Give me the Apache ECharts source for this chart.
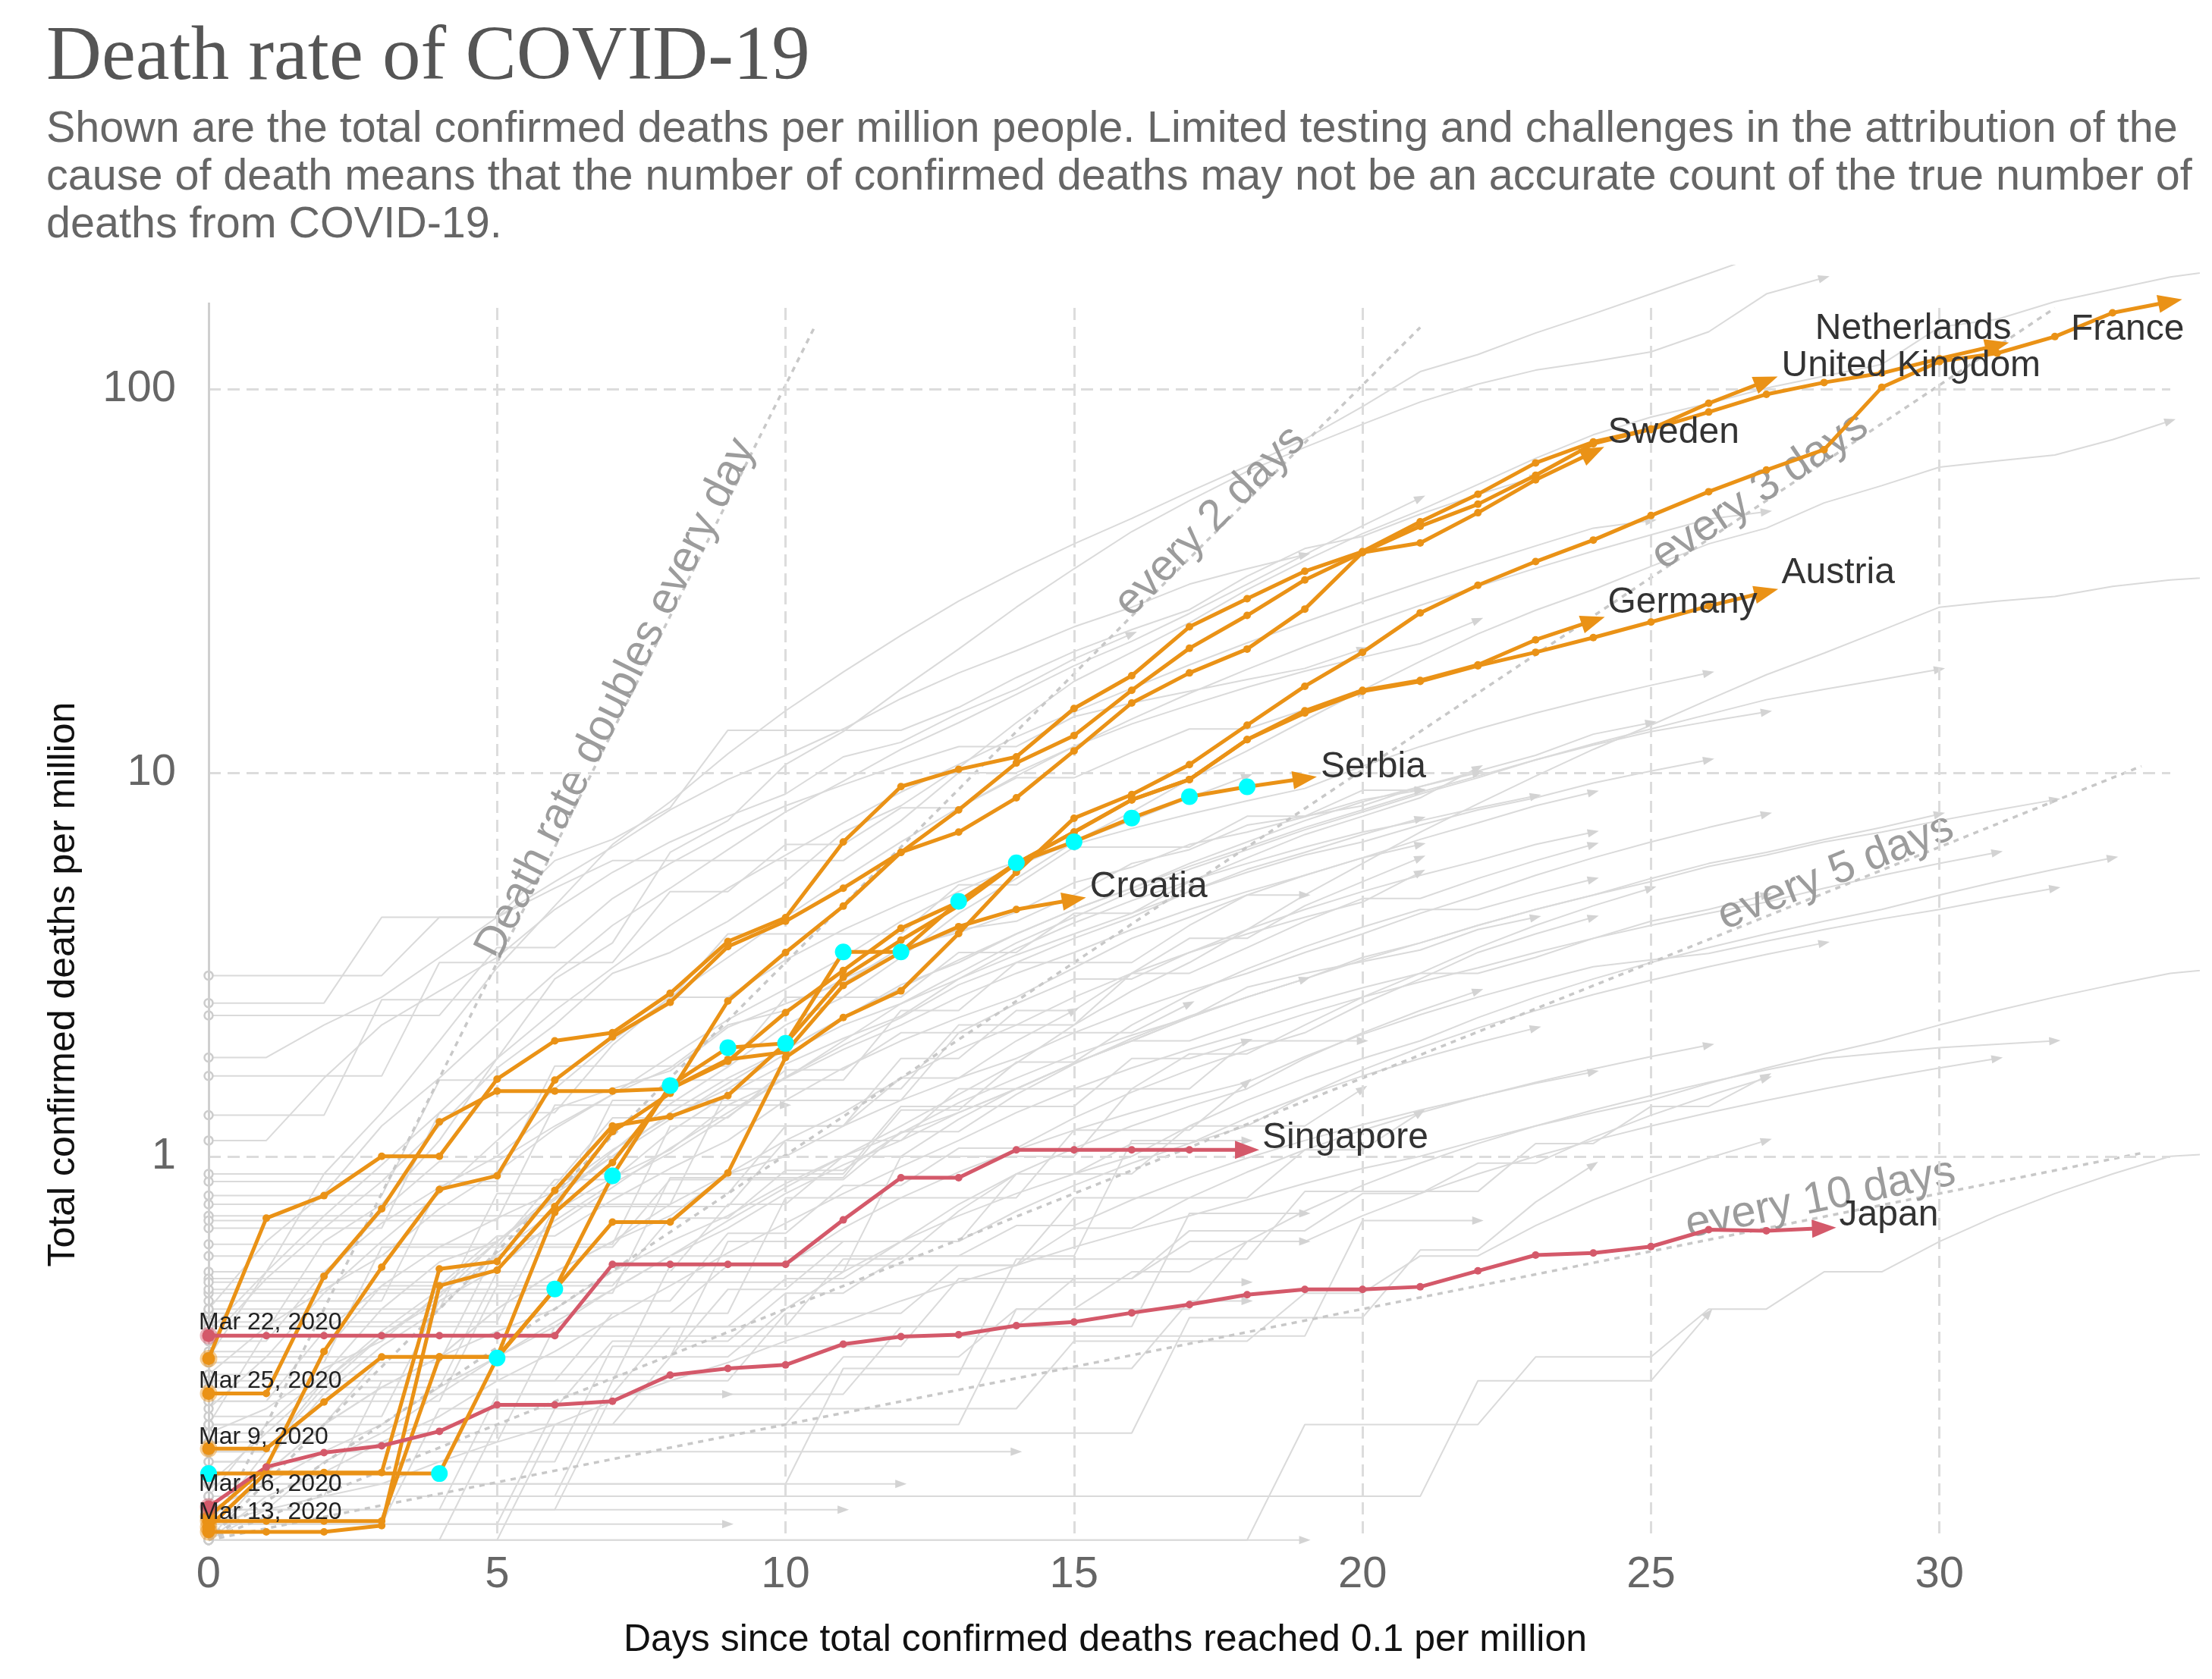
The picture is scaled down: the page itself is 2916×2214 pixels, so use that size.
<!DOCTYPE html>
<html><head><meta charset="utf-8">
<script src="https://cdn.jsdelivr.net/npm/echarts@6/dist/echarts.min.js"></script>
<style>html,body{margin:0;padding:0;background:#fff}#c{width:2916px;height:2214px}</style>
</head><body><div id="c"></div>
<script>
// ---------------- DATA (index = days since 0.1 deaths per million) ----------------
const xTickValues = [0, 5, 10, 15, 20, 25, 30];
const yTickValues = [1, 10, 100];

const france = [0.173,0.173,0.229,0.30,0.30,0.30,0.45,0.674,0.674,0.905,1.81,2.30,2.70,3.81,5.5,7.61,8.77,10.5,13.3,16.8,20.6,26.1,30.8,35.5,40.4,46.8,54.0,61.5,69.5,101,118,124,137,158,169];
const netherlands = [0.115,0.155,0.31,0.514,0.82,0.89,1.58,2.05,2.52,3.52,4.1,5.0,6.2,8.0,10.6,12.5,16.4,21.1,25.7,31.8,37.5,43.9,50.1,59.6,72,78.5,87.1,96.9,104,110,120,130];
const unitedKingdom = [0.297,0.69,0.79,1.0,1.0,1.59,2.0,2.1,2.66,3.63,4.19,6.6,9.2,10.2,11.0,14.7,17.9,24.0,28.4,33.5,37.7,45.1,53.2,64.2,72.8,78.7,91.8,105];
const sweden = [0.105,0.105,0.105,0.109,0.46,0.505,0.74,1.16,1.46,2.54,3.4,4.49,6.2,7.0,8.6,11.4,15.2,18.2,21.0,26.7,37.5,39.7,47.6,58.0,68.5];
const austria = [0.112,0.112,0.112,0.112,0.30,0.30,0.714,0.964,1.5,1.77,2.37,3.05,3.93,4.6,5.8,7.0,8.5,9.6,12.2,14.3,16.3,17.3,19.0,20.6,22.5,24.7,27.2,29.6];
const germany = [0.108,0.15,0.15,0.15,0.509,0.532,0.815,1.2,1.27,1.44,1.97,2.93,3.66,4.5,5.8,7.0,8.5,9.6,12.2,14.5,16.4,17.4,19.1,22.2,24.9];
const serbia = [0.149,null,null,null,0.149,0.298,0.451,0.89,1.53,1.92,1.97,3.41,3.41,4.62,5.82,6.61,7.62,8.66,9.19,9.66];
const croatia = [0.241,0.241,0.487,0.73,1.23,1.48,1.48,1.48,1.5,1.79,1.87,2.79,3.41,3.97,4.40,4.67];
const singapore = [0.341,0.341,0.341,0.341,0.341,0.341,0.341,0.523,0.523,0.523,0.523,0.683,0.88,0.88,1.04,1.04,1.04,1.04,1.04];
const japan = [0.122,0.155,0.169,0.176,0.192,0.225,0.225,0.23,0.269,0.28,0.286,0.324,0.339,0.343,0.362,0.37,0.391,0.411,0.436,0.45,0.45,0.457,0.503,0.553,0.56,0.582,0.644,0.64,0.65];

const dateLabels = ['Mar 22, 2020','Mar 25, 2020','Mar 9, 2020','Mar 16, 2020','Mar 13, 2020'];
const dateLabelValues = [0.345,0.243,0.174,0.131,0.111];

const refLabels = ['Death rate doubles every day','every 2 days','every 3 days','every 5 days','every 10 days'];
const refDoublingDays = [1, 2, 3, 5, 10];
const refEndDays = [10.5, 21, 32, 33.5, 33.5];
const refLabelDays = [7.24, 17.5, 27.0, 28.3, 28.0];

const grayLines = [
 [0.33,0.48,0.65,0.86,1.2,1.7,2.2,3.0,3.4,4.1,5.2,7.0,8.2,10.3,13.5,17.3,20.6,24.6,30.0,35.7,42.0,48.3,56.4,66.0,76.0,84.5,91.7,100.6,108,116,145,152,169,182,196,205],
 [0.2,0.35,0.6,0.75,1.1,1.8,2.9,3.6,6.2,7.5,10.5,12.8,16.5,21.0,27.0,34.0,42.5,51.2,61.0,70.5,81.0,92.5,103,112,118,125,141,177,195],
 [0.3,0.5,0.9,1.3,2.0,3.1,4.5,6.5,8.4,11.2,14.5,18.3,22.8,28.0,33.5,39.5,46,54,63,74,90,111,123,140,157,177,200,226],
 [0.11,0.17,0.26,0.34,0.43,0.6,0.77,1.03,1.37,1.71,2.2,2.6,3.3,4.3,5.3,6.6,7.9,9.6,11.4,13.7,16.4,19.5,23,26.5,30,34.5,39.5,43.4,50.5,56,62.6,65,67.3,73.8,82.6],
 [0.1,0.12,0.16,0.19,0.24,0.3,0.37,0.45,0.55,0.68,0.83,1.0,1.2,1.45,1.75,2.2,2.7,3.2,3.9,4.8,5.8,7.0,8.3,9.8,11.5,13.3,15.5,18,20.5,23.5,27,28,28.8,30.6,31.8,32.5],
 [2.96,2.96,2.96,2.96,4.2,4.2,5.9,6.7,8.1,12.9,12.9,12.9,12.9,14.8,17.7,20.7,23.6,26.6,32.5,38.4,41.3,47.2,53.1,59],
 [2.51,2.51,2.51,4.2,4.2,4.2,5.0,5.9,5.9,5.9,5.9,5.9,7.5,10,10,11.7,13.4,15,16.7,18.4,20,21.7,25],
 [2.33,2.33,2.33,2.33,2.33,3.5,3.5,4.7,5.8,7.0,8.2,9.3,10.5,11.7,11.7,14.0,15.2,16.3,17.5,18.7,21.0],
 [1.81,1.81,2.2,2.6,3.3,4.2,5.2,6.4,8.0,9.6,11.1,13.0,15.6,18.2,20.8,24,27,31,34,37],
 [1.62,1.62,1.62,1.62,3.2,3.2,3.2,3.2,4.9,4.9,6.5,6.5,8.1,8.1,9.7,9.7,11.3,13,13,14.6,16.2],
 [1.28,1.28,1.28,2.56,2.56,2.56,2.56,2.56,2.56,3.8,3.8,3.8,3.8,5.1,5.1,6.4,6.4,6.4,7.7,7.7,9.0,9.0],
 [0.86,0.86,0.86,0.86,0.86,0.86,1.72,1.72,1.72,1.72,2.6,2.6,2.6,3.4,3.4,4.3,4.3,5.2,6.0,6.9,7.7,8.6,10.3],
 [0.79,0.79,0.79,0.79,1.58,1.58,1.58,1.58,1.58,1.58,1.58,1.58,2.4,2.4,3.2,3.2,3.2,4.0,4.8,4.8],
 [0.75,0.75,0.75,0.75,0.75,0.75,0.75,0.75,0.75,1.5,1.5,1.5,1.5,2.2,2.2,2.2,3.0,3.7,3.7,4.5,5.2,6.0],
 [0.59,0.59,0.59,0.59,0.59,0.59,0.59,0.59,1.2,1.2,1.2,1.2,1.8,1.8,2.4,2.4,3.0,3.0,3.5,4.1,4.7,4.7,5.3,5.9,6.5],
 [0.5,0.5,0.5,0.5,0.5,0.5,0.5,0.5,0.5,0.5,0.5,0.5,1.0,1.0,1.0,1.0,1.5,1.5,2.0,2.0,2.0],
 [0.48,0.48,0.48,0.72,0.97,0.97,1.2,1.45,1.7,2.2,2.4,2.9,3.4,3.9,4.1,4.8,5.8,6.3,7.3,7.7,8.2,9.2,10.1,11.1,12.6,13.5],
 [0.42,0.42,0.42,0.42,0.84,0.84,0.84,1.26,1.26,1.26,1.68,1.68,2.1,2.1,2.5,2.9,2.9,3.4,3.8,4.2,4.6,5.5],
 [0.39,0.39,0.39,0.39,0.39,0.39,0.39,0.39,0.39,0.39,0.78,0.78,0.78,0.78,0.78,1.17,1.17,1.17,1.56],
 [0.37,0.37,0.37,0.37,0.37,0.37,0.74,0.74,0.74,0.74,1.1,1.1,1.1,1.5,1.5,1.5,1.5,1.85,1.85,2.2,2.6,3.0,3.0,3.3,3.7,4.1,4.4,4.8],
 [0.33,0.33,0.5,0.67,0.83,1.0,1.33,1.5,1.67,2.17,2.5,2.83,3.5,3.83,4.33,5.17,5.67,6.5,7.0,7.67,8.5,9.0],
 [0.31,0.31,0.31,0.46,0.46,0.62,0.62,0.77,0.93,1.1,1.4,1.7,2.0,2.3,2.6,3.1,3.7,4.2,4.8,5.4,6.0,6.7,7.4,8.2,8.9],
 [0.29,0.29,0.29,0.29,0.29,0.58,0.58,0.58,0.87,0.87,0.87,0.87,1.16,1.16,1.45,1.74,2.03,2.32,2.6,2.9],
 [0.27,0.36,0.45,0.55,0.73,0.91,1.18,1.45,1.82,2.27,2.73,3.3,4.1,4.9,5.7,6.6,7.5,8.6,9.8],
 [0.25,0.25,0.25,0.25,0.25,0.5,0.5,0.5,0.5,0.75,0.75,1.0,1.0,1.25,1.5,1.75,2.0,2.0,2.25,2.5,2.75,3.0,3.5,4.0,4.5,5.0],
 [0.23,0.23,0.35,0.46,0.58,0.69,0.81,1.04,1.27,1.5,1.85,2.2,2.5,2.9,3.35,3.8,4.3,4.9,5.5,6.1,6.6,7.3,8.0,8.6,9.4,10.1,10.8],
 [0.21,0.21,0.21,0.21,0.42,0.42,0.42,0.42,0.42,0.63,0.63,0.84,0.84,1.05,1.05,1.26,1.47,1.68,1.89,2.1,2.5,2.9,3.4,3.8,4.2],
 [0.2,0.2,0.2,0.2,0.2,0.2,0.2,0.2,0.2,0.2,0.2,0.2,0.2,0.2,0.4,0.4,0.4,0.4,0.6,0.6],
 [0.19,0.22,0.28,0.33,0.44,0.55,0.66,0.83,1.05,1.3,1.6,2.0,2.5,3.0,3.6,4.2,4.9,5.6,6.3,7.1,7.9,8.8,9.7,10.8,11.9,13.0,14.2,15.5,16.5,17.5,18.6],
 [0.18,0.18,0.18,0.18,0.18,0.18,0.36,0.36,0.36,0.36,0.36,0.54,0.54,0.72,0.9,0.9,1.08,1.08,1.26,1.44,1.62,1.8,1.98,2.16],
 [0.17,0.17,0.25,0.34,0.42,0.51,0.68,0.85,1.02,1.27,1.61,1.95,2.3,2.8,3.2,3.7,4.2,4.9,5.6,6.2,6.9,7.6],
 [0.16,0.16,0.16,0.16,0.16,0.16,0.16,0.32,0.32,0.32,0.32,0.32,0.32,0.48,0.48,0.48,0.48,0.64,0.64,0.64,0.8,0.8,0.96,0.96,1.12,1.28,1.44,1.6],
 [0.15,0.15,0.2,0.25,0.3,0.35,0.4,0.5,0.6,0.7,0.85,1.0,1.15,1.3,1.5,1.75,2.0,2.3,2.6,2.9,3.3,3.6,4.0,4.4,4.8,5.3,5.8,6.2,6.7,7.2,7.8],
 [0.14,0.14,0.14,0.14,0.14,0.14,0.14,0.14,0.14,0.14,0.14,0.28,0.28,0.28,0.28,0.28,0.28,0.42,0.42],
 [0.13,0.13,0.13,0.26,0.26,0.26,0.26,0.39,0.39,0.52,0.52,0.65,0.78,0.91,1.04,1.17,1.3,1.43,1.56,1.82,2.08,2.34,2.6,2.86,3.12,3.25,3.38,3.64,3.9,4.16,4.4,4.7,5.0],
 [0.12,0.12,0.12,0.12,0.12,0.12,0.12,0.12,0.12,0.12,0.12,0.12],
 [0.12,0.14,0.17,0.2,0.25,0.3,0.36,0.45,0.55,0.65,0.8,0.95,1.1,1.3,1.5,1.75,2.0,2.3,2.6,2.9,3.25,3.6,4.0,4.4,4.8,5.2,5.7,6.1,6.6,7.0,7.5,8.0,8.5],
 [0.11,0.11,0.11,0.11,0.11,0.11,0.22,0.22,0.22,0.22,0.22,0.22,0.22,0.22,0.22,0.33,0.33,0.33,0.33,0.44,0.44,0.55,0.55,0.66,0.77,0.88,0.99,1.1],
 [0.11,0.12,0.13,0.14,0.16,0.18,0.2,0.23,0.26,0.29,0.33,0.37,0.42,0.47,0.52,0.58,0.64,0.7,0.77,0.85,0.93,1.0,1.1,1.2,1.3,1.4,1.55,1.7,1.85,2.0,2.2,2.4,2.6,2.8,3.0,3.1],
 [0.1,0.1,0.1,0.1,0.1,0.1,0.1,0.1,0.1,0.1,0.1,0.1,0.1,0.1,0.1,0.1,0.1,0.1,0.1,0.2,0.2,0.2,0.2,0.3,0.3,0.3,0.4,0.4,0.5,0.5,0.6,0.7,0.8,0.9,1.0,1.02],
 [0.1,0.1,0.1,0.1,0.1,0.1,0.1,0.1,0.1,0.1,0.1,0.1,0.1,0.1,0.1,0.1,0.1,0.1,0.1,0.1],
 [0.1,0.13,0.15,0.18,0.21,0.26,0.31,0.38,0.46,0.56,0.67,0.8,0.94,1.1,1.3,1.5,1.7,1.9,2.1,2.35,2.6,2.85,3.1,3.4,3.7,4.0,4.3,4.6,5.0,5.4,5.8,6.2],
 [0.27,0.27,0.27,0.27,0.27,0.27,0.27,0.27,0.27,0.27,0.27,0.27,0.27,0.27,0.54,0.54,0.54,0.54,0.54,0.81,0.81,0.81,0.81,1.08,1.08,1.35,1.35,1.62],
 [0.44,0.44,0.44,0.44,0.44,0.44,0.44,0.44,0.88,0.88,0.88,0.88,1.32,1.32,1.76,1.76,2.2,2.64,3.08,3.52,3.96,4.4,4.4,4.84,5.28],
 [0.65,0.65,0.65,0.65,1.3,1.3,1.3,1.95,2.6,2.6,3.25,3.9,4.55,5.2,5.85,6.5,7.15,7.8,8.45,9.1,10.4,11.7,13.0,14.3,15.6,16.9,18.2],
 [0.35,0.5,0.7,0.95,1.3,1.8,2.4,3.1,4.0,5.0,6.1,7.4,8.9,10.5,12.4,14.4,16.6,19.1,21.8,24.7,27.9,31.3,35.0,39.0,43.4,45.4],
 [0.22,0.3,0.44,0.6,0.8,1.1,1.5,2.0,2.6,3.3,4.2,5.3,6.6,8.1,9.8,11.7,13.8,16.1,18.6,21.3,24.2,27.3,30.6,34.1,37.8,41.7,45.8,47.9],
 [0.45,0.45,0.45,0.45,0.45,0.45,0.45,0.9,0.9,0.9,0.9,0.9,1.35,1.35,1.35,1.35,1.8,1.8,2.0],
 [0.36,0.36,0.36,0.36,0.36,0.36,0.36,0.36,0.36,0.36,0.36,0.36,0.36,0.36,0.36,0.36,0.36,0.71,0.71,0.71],
 [0.16,0.16,0.24,0.32,0.4,0.56,0.72,0.88,1.04,1.36,1.6,1.9,2.2,2.6,3.0,3.4,3.9,4.4,4.9,5.4,6.0,6.5],
 [0.13,0.2,0.27,0.4,0.53,0.6,0.8,1.0,1.3,1.6,1.9,2.3,2.8,3.2,3.8,4.4,5.0,5.8,6.6,7.5,8.4,9.2,10],
 [0.23,0.23,0.23,0.23,0.23,0.46,0.46,0.46,0.69,0.69,0.92,0.92,1.15,1.38,1.6,1.84,2.07,2.3,2.76,3.0,3.22,3.45,3.9,4.2],
 [0.1,0.15,0.2,0.25,0.3,0.4,0.5,0.6,0.75,0.9,1.1,1.3,1.6,1.9,2.2,2.6,3.0,3.4,3.9,4.4,4.9,5.4,5.9,6.5,7.0],
 [0.11,0.11,0.11,0.11,0.22,0.22,0.22,0.33,0.33,0.33,0.44,0.44,0.55,0.55,0.66,0.66,0.77,0.88,0.99,1.1,1.21,1.32,1.43,1.55,1.66],
 [0.14,0.19,0.26,0.35,0.45,0.6,0.78,1.0,1.25,1.55,1.9,2.3,2.75,3.25,3.8,4.4,5.0,5.7,6.4,7.2,8.0,8.9,9.8,10.8,11.8,12.8,13.6,14.4],
 [0.2,0.2,0.2,0.3,0.3,0.4,0.5,0.6,0.7,0.9,1.0,1.2,1.4,1.6,1.8,2.1,2.4,2.7,3.0,3.4,3.8,4.3,4.8,5.4,6.0,6.6,7.2,7.8],
 [0.12,0.12,0.12,0.12,0.12,0.24,0.24,0.24,0.36,0.36,0.48,0.48,0.6,0.6,0.72,0.84,0.96,1.08,1.2,1.44,1.68,1.92,2.16,2.4,2.64,2.88,3.12,3.36,3.6],
 [0.1,0.1,0.1,0.1,0.1,0.1,0.2,0.2,0.2,0.2,0.2,0.3,0.3,0.3,0.4,0.4,0.5,0.5,0.6,0.6,0.7,0.8,0.9,1.0,1.1,1.2,1.3,1.4,1.5,1.6,1.7,1.8],
 [0.14,0.14,0.14,0.14,0.14,0.14,0.14,0.14,0.14,0.14,0.14,0.14,0.14],
 [0.11,0.11,0.11,0.11,0.11,0.11,0.11,0.11,0.11,0.11],
 [0.7,0.7,0.7,0.7,0.7,0.7,0.7,1.4,1.4,1.4,1.4,1.4,1.4,2.1,2.1,2.1,2.1,2.5],
 [0.3,0.3,0.3,0.3,0.3,0.3,0.3,0.3,0.3,0.6,0.6,0.6,0.6,0.6,0.9,0.9,0.9,1.2,1.2,1.2,1.5],
 [0.13,0.13,0.13,0.13,0.13,0.13,0.13,0.26,0.26,0.26,0.39,0.39,0.39,0.52,0.52,0.65,0.65,0.78,0.91,1.04,1.17,1.3,1.43,1.56,1.69,1.82,1.95],
 [0.9,0.9,0.9,0.9,0.9,0.9,0.9,0.9],
 [0.68,0.68,0.68,0.68,0.68,0.68,1.36,1.36,1.36,1.36,1.36],
 [0.55,0.55,0.55,0.55,0.55,0.55,0.55,0.55,0.55,0.55,0.55,0.55,0.55,0.55,0.55,0.55,1.1,1.1,1.1],
 [0.47,0.47,0.47,0.47,0.47,0.47,0.47,0.47,0.47,0.47,0.47,0.47,0.47,0.47,0.47,0.47,0.47,0.47,0.47],
 [0.4,0.4,0.4,0.4,0.4,0.8,0.8,0.8,0.8,0.8,1.2,1.2,1.6,1.6,2.0,2.4],
 [0.34,0.34,0.34,0.34,0.34,0.34,0.34,0.34,0.34,0.34,0.34,0.34,0.34,0.34,0.34,0.34,0.34,0.34,0.34,0.34,0.68,0.68,0.68],
 [0.26,0.26,0.26,0.26,0.26,0.26,0.26,0.26,0.52,0.52,0.52,0.52,0.52,0.52,0.52,0.78,0.78,0.78,0.78,1.04,1.04,1.3],
 [0.24,0.24,0.24,0.24,0.24,0.24,0.24,0.24,0.24,0.24],
 [0.19,0.19,0.19,0.19,0.19,0.19,0.19,0.19,0.19,0.19,0.19,0.19,0.19,0.19,0.19,0.19,0.19,0.38,0.38,0.38,0.38,0.57,0.57,0.76,0.95],
 [0.17,0.17,0.17,0.17,0.17,0.17,0.17,0.17,0.17,0.17,0.17,0.17,0.17,0.17,0.17],
 [0.15,0.15,0.15,0.15,0.15,0.3,0.3,0.3,0.3,0.45,0.45,0.6,0.6,0.75,0.9,1.05,1.2,1.35,1.5,1.8,2.1,2.4,2.7],
 [0.13,0.13,0.13,0.13,0.13,0.13,0.13,0.13,0.13,0.13,0.13,0.13,0.13,0.13,0.13,0.13,0.13,0.13,0.13,0.13,0.13,0.13,0.26,0.26,0.26,0.26,0.39],
 [0.1,0.1,0.1,0.1,0.1,0.2,0.2,0.2,0.3,0.3,0.4,0.5,0.6,0.7,0.8,0.9,1.0,1.2,1.4,1.6,1.8,2.0,2.3,2.6,2.9,3.2,3.5,3.8,4.1,4.4,4.8,5.2,5.6,6.0],
 [0.29,0.29,0.29,0.58,0.58,0.58,0.87,0.87,1.16,1.45,1.74,2.03,2.32,2.9,3.48,4.06,4.64,5.22,5.8,6.4,7.0,7.5,8.1,8.7],
 [0.12,0.12,0.12,0.12,0.12,0.12,0.12,0.24,0.24,0.24,0.24,0.24,0.36,0.36,0.36,0.48,0.48,0.6,0.6,0.72,0.84,0.96,1.08,1.2,1.32,1.44,1.56,1.68,1.8,1.86,1.92,1.96,2.0],
 [0.4,0.6,0.8,1.2,1.6,2.2,3.0,4.0,5.0,6.3,7.9,9.5,11.5,13.5,16,19,22,26,31,37,44,52],
 [1.1,1.1,1.6,2.2,2.7,3.3,4.4,5.5,6.6,7.7,8.8,11,12,14.3,16.5,19.8,23]
];

// ---------------- RENDER ----------------
const ORANGE = '#EA9216', RED = '#D4596A', CYAN = '#00FFFF', GRAY = '#dadada';
const ARROW = 'path://M0,0L12,5L0,10Z';
const FONT = '"Liberation Sans", Arial, sans-serif';
const X_MAX = 34.5, Y_MIN = 0.095, Y_MAX = 210;

const chart = echarts.init(document.getElementById('c'), null, {renderer: 'canvas'});
const baseOption = {
  animation: false,
  backgroundColor: '#fff',
  grid: {left: 275, right: 17, top: 350, bottom: 172},
  xAxis: {type: 'value', min: 0, max: X_MAX, interval: 5,
    axisLine: {show: false}, axisTick: {show: false}, splitLine: {show: false},
    axisLabel: {margin: 6, fontSize: 58, color: '#666', fontFamily: FONT,
      formatter: v => xTickValues.includes(v) ? String(v) : ''}},
  yAxis: {type: 'log', logBase: 10, min: Y_MIN, max: Y_MAX,
    axisLine: {show: false}, axisTick: {show: false}, splitLine: {show: false},
    axisLabel: {margin: 43, fontSize: 58, color: '#666', fontFamily: FONT,
      formatter: v => { const m = yTickValues.find(t => Math.abs(t - v) / t < 1e-6); return m ? String(m) : ''; }}},
  series: []
};
chart.setOption(baseOption);
const toPx = p => chart.convertToPixel({gridIndex: 0}, p);

function rotOf(a, b) { return Math.atan2(a[1] - b[1], b[0] - a[0]) * 180 / Math.PI; }

function buildLine(values, cfg) {
  const pts = [];
  values.forEach((v, i) => { if (v != null) pts.push([i, v]); });
  const n = pts.length;
  const rot = rotOf(toPx(pts[n - 2]), toPx(pts[n - 1]));
  const data = pts.map((p, i) => {
    if (i === 0) return {value: p, symbol: 'circle', symbolSize: cfg.startSize, itemStyle: cfg.startStyle};
    if (i === n - 1) return {value: p, symbol: ARROW, symbolSize: cfg.arrowSize, symbolRotate: rot, itemStyle: {color: cfg.arrowColor}};
    return {value: p, symbol: cfg.midSymbol, symbolSize: cfg.midSize, itemStyle: cfg.midStyle};
  });
  return {type: 'line', data, z: cfg.z, silent: true, animation: false, clip: true,
    symbol: 'circle', showSymbol: true, showAllSymbol: true,
    lineStyle: {color: cfg.color, width: cfg.width}, itemStyle: {color: cfg.color}, emphasis: {disabled: true}};
}

const series = [];
// gridlines via markLine on helper series
const gridData = [];
yTickValues.forEach(v => gridData.push([{coord: [0, v]}, {coord: [34, v]}]));
xTickValues.filter(v => v > 0).forEach(v => gridData.push([{coord: [v, 0.104]}, {coord: [v, 168]}]));
series.push({type: 'line', data: [], z: 1, silent: true,
  markLine: {silent: true, symbol: ['none', 'none'], label: {show: false}, animation: false,
    lineStyle: {color: '#dcdcdc', type: [16, 9], width: 3}, data: gridData}});
series.push({type: 'line', data: [], z: 1, silent: true,
  markLine: {silent: true, symbol: ['none', 'none'], label: {show: false}, animation: false,
    lineStyle: {color: '#cfcfcf', type: 'solid', width: 3}, data: [[{coord: [0, 0.102]}, {coord: [0, 168]}]]}});

// gray country lines
grayLines.forEach(vals => series.push(buildLine(vals, {
  color: GRAY, width: 2, z: 2,
  startSize: 11, startStyle: {color: '#fff', borderColor: '#cccccc', borderWidth: 2.5},
  midSymbol: 'none', midSize: 0, midStyle: {},
  arrowSize: [15, 11], arrowColor: '#d3d3d3'
})));

// doubling reference lines
refDoublingDays.forEach((k, i) => {
  const end = refEndDays[i];
  series.push({type: 'line', z: 3, silent: true, symbol: 'none',
    data: [[0, 0.1], [end, 0.1 * Math.pow(2, end / k)]],
    lineStyle: {color: '#c8c8c8', width: 3.5, type: [7, 7]}});
});

// highlighted countries
const hi = [
  {name: 'France', v: france, c: ORANGE, off: [-131, 37]},
  {name: 'Netherlands', v: netherlands, c: ORANGE, off: [-240, -22]},
  {name: 'United Kingdom', v: unitedKingdom, c: ORANGE, off: [20, -20]},
  {name: 'Sweden', v: sweden, c: ORANGE, off: [19, -25]},
  {name: 'Austria', v: austria, c: ORANGE, off: [20, -25]},
  {name: 'Germany', v: germany, c: ORANGE, off: [19, -24]},
  {name: 'Croatia', v: croatia, c: ORANGE, off: [21, -16]},
  {name: 'Singapore', v: singapore, c: RED, off: [20, -15]},
  {name: 'Japan', v: japan, c: RED, off: [20, -17]},
  {name: 'Serbia', v: serbia, c: ORANGE, off: [21, -15], cyan: true}
];
const graphics = [];
hi.forEach(h => {
  const ringCol = h.c === ORANGE ? 'rgba(234,146,22,0.45)' : 'rgba(212,89,106,0.45)';
  series.push(buildLine(h.v, {
    color: h.c, width: 5, z: h.cyan ? 6 : 5,
    startSize: h.cyan ? 22 : 17,
    startStyle: h.cyan ? {color: CYAN} : {color: h.c, borderColor: ringCol, borderWidth: 6},
    midSymbol: 'circle', midSize: h.cyan ? 22 : 10,
    midStyle: h.cyan ? {color: CYAN} : {color: h.c},
    arrowSize: [32, 24], arrowColor: h.c
  }));
  const vals = h.v.filter(v => v != null);
  const p = toPx([h.v.length - 1, vals[vals.length - 1]]);
  graphics.push({type: 'text', x: p[0] + h.off[0], y: p[1] + h.off[1], z: 20,
    style: {text: h.name, fill: '#333', font: '48px ' + FONT, align: 'left', verticalAlign: 'middle'}});
});

// reference line labels
refLabels.forEach((t, i) => {
  const k = refDoublingDays[i], d = refLabelDays[i];
  const a = toPx([d, 0.1 * Math.pow(2, d / k)]);
  const b = toPx([d + 0.5, 0.1 * Math.pow(2, (d + 0.5) / k)]);
  const ang = Math.atan2(a[1] - b[1], b[0] - a[0]);
  const off = [15, 15, 15, 20, 24][i];
  graphics.push({type: 'text', x: a[0] - Math.sin(ang) * off, y: a[1] - Math.cos(ang) * off, rotation: ang, z: 4,
    style: {text: t, fill: '#9c9c9c', font: '58px ' + FONT, align: 'center', verticalAlign: 'middle'}});
});

// start date labels
dateLabels.forEach((t, i) => {
  const p = toPx([0, dateLabelValues[i]]);
  graphics.push({type: 'text', x: p[0] - 13, y: p[1] + 2, z: 20,
    style: {text: t, fill: '#222', font: '32px ' + FONT, align: 'left', verticalAlign: 'bottom'}});
});

// titles
graphics.push({type: 'text', x: 61, y: 27, z: 20,
  style: {text: 'Death rate of COVID-19', fill: '#555', font: '101px "Liberation Serif", "Times New Roman", serif', align: 'left', verticalAlign: 'top'}});
graphics.push({type: 'text', x: 61, y: 140, z: 20,
  style: {text: 'Shown are the total confirmed deaths per million people. Limited testing and challenges in the attribution of the\ncause of death means that the number of confirmed deaths may not be an accurate count of the true number of\ndeaths from COVID-19.',
    fill: '#666', font: '57.5px ' + FONT, lineHeight: 63, align: 'left', verticalAlign: 'top'}});
// axis titles
graphics.push({type: 'text', x: 1457, y: 2163, z: 20,
  style: {text: 'Days since total confirmed deaths reached 0.1 per million', fill: '#111', font: '50px ' + FONT, align: 'center', verticalAlign: 'middle'}});
graphics.push({type: 'text', x: 84, y: 1298, rotation: Math.PI / 2, z: 20,
  style: {text: 'Total confirmed deaths per million', fill: '#111', font: '50px ' + FONT, align: 'center', verticalAlign: 'middle'}});

chart.setOption({series: series, graphic: graphics});
</script></body></html>
